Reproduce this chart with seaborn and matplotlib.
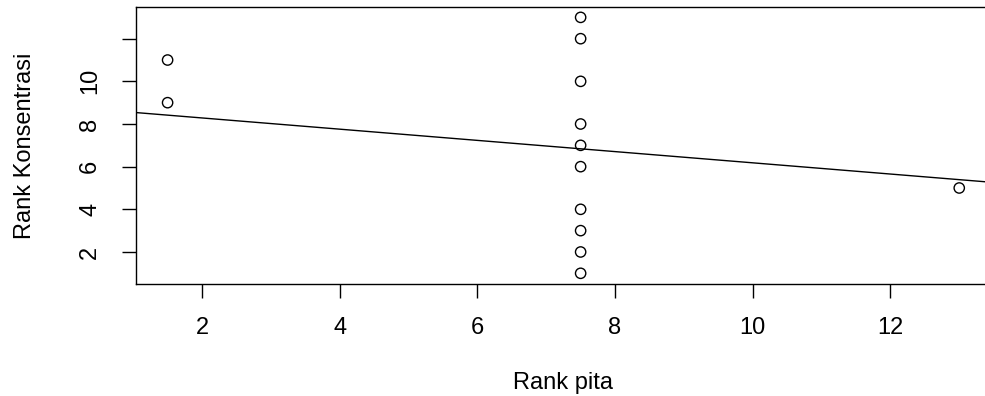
import matplotlib
matplotlib.use("Agg")
import matplotlib.pyplot as plt
import seaborn as sns
import pandas as pd

# ranks
rank_pita = [1.5, 1.5, 7.5, 7.5, 7.5, 7.5, 7.5, 7.5, 7.5, 7.5, 7.5, 7.5, 13]
rank_konsentrasi = [9, 11, 1, 2, 3, 4, 6, 7, 8, 10, 12, 13, 5]

# fitted line (abline)
line_intercept = 8.81
line_slope = -0.263

x_ticks = [2, 4, 6, 8, 10, 12]
y_ticks = [2, 4, 6, 8, 10, 12]
y_ticklabels = ["2", "4", "6", "8", "10", ""]

sns.set_style("white")
plt.rcParams["font.family"] = ["Liberation Sans", "DejaVu Sans"]
plt.rcParams["text.color"] = "black"
plt.rcParams["axes.labelcolor"] = "black"
plt.rcParams["xtick.color"] = "black"
plt.rcParams["ytick.color"] = "black"

df = pd.DataFrame({"pita": rank_pita, "konsentrasi": rank_konsentrasi})

fig = plt.figure(figsize=(9.85, 3.96), dpi=100)
ax = fig.add_axes([0.138, 0.284, 0.868, 0.698])

sns.scatterplot(data=df, x="pita", y="konsentrasi", ax=ax, marker="o",
                s=55, facecolor="none", edgecolor="black", linewidth=1.0)
ax.axline((0, line_intercept), slope=line_slope, color="black", linewidth=1.0)

ax.set_xlim(1.04, 13.46)
ax.set_ylim(0.52, 13.48)
ax.set_xticks(x_ticks)
ax.set_yticks(y_ticks)
ax.set_yticklabels(y_ticklabels, rotation=90, va="center")
ax.tick_params(axis="both", direction="out", length=10, width=1.0,
               color="black", labelcolor="black", labelsize=17, pad=14,
               bottom=True, left=True)
ax.tick_params(axis="y", pad=15)

for sp in ax.spines.values():
    sp.set_color("black")
    sp.set_linewidth(1.0)

ax.set_xlabel("Rank pita", fontsize=17, labelpad=24)
ax.set_ylabel("Rank Konsentrasi", fontsize=17, labelpad=31)

fig.savefig("out.png", dpi=100)
